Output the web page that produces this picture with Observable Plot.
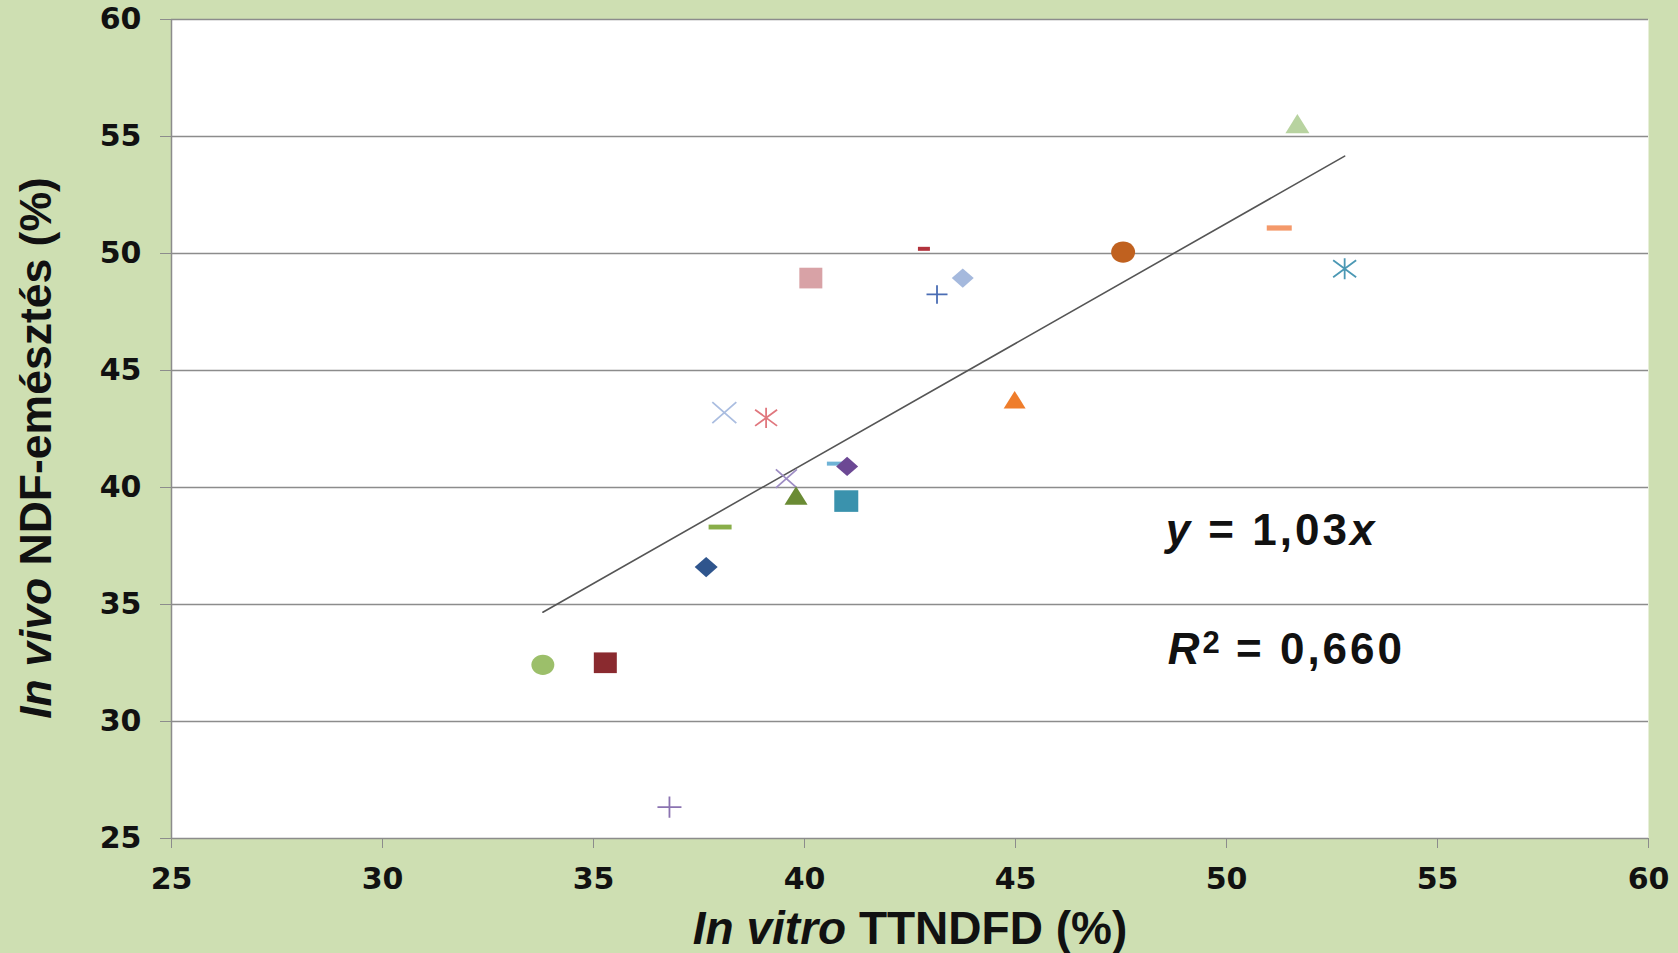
<!DOCTYPE html>
<html>
<head>
<meta charset="utf-8">
<script src="https://cdn.jsdelivr.net/npm/d3@7"></script>
<script src="https://cdn.jsdelivr.net/npm/@observablehq/plot@0.6"></script>
<style>
  html, body { margin: 0; padding: 0; background: #cedfb2; }
  #chart svg { display: block; }
  #chart svg [aria-label$="tick label"] text { font-weight: bold; }
</style>
</head>
<body>
<div id="chart"></div>
<script>
// ---- data ----
const pointIds = [1, 2, 3, 4, 5, 6, 7, 8, 9, 10, 11, 12, 13, 14, 15, 16, 17, 18, 19, 20, 21];
const inVitro = [51.68, 47.55, 51.25, 52.80, 42.83, 43.75, 43.14, 40.15, 44.98, 38.10, 39.09, 39.57, 41.01, 40.72, 39.80, 40.99, 38.00, 37.67, 33.80, 35.28, 36.80];
const inVivo  = [55.55, 50.06, 51.09, 49.35, 50.20, 48.95, 48.25, 48.95, 43.75, 43.20, 42.98, 40.38, 40.90, 41.02, 39.66, 39.42, 38.31, 36.60, 32.42, 32.51, 26.34];
const xTicks = [25, 30, 35, 40, 45, 50, 55, 60];
const yTicks = [25, 30, 35, 40, 45, 50, 55, 60];
const trendX = [33.80, 52.80];
const trendY = [34.67, 54.16];
const xTitleItalic = "In vitro", xTitleRest = " TTNDFD (%)";
const yTitleItalic = "In vivo", yTitleRest = " NDF-emésztés (%)";
const eqLabel = {x: 48.57, y: 37.52};
const r2Label = {x: 48.62, y: 32.45};

// ---- marker styles (one per point, same order) ----
const markerStyle = [
  {shape: "triangle", color: "#b8d3a0", r: 12},
  {shape: "ellipse",  color: "#c0611f", r: 12},
  {shape: "dash",     color: "#f4996a", r: 12.5},
  {shape: "asterisk", color: "#4b98b4", r: 11.5},
  {shape: "dash",     color: "#b2323c", r: 6},
  {shape: "diamond",  color: "#a5b9dd", r: 11},
  {shape: "plus",     color: "#4a6db4", r: 10.5},
  {shape: "square",   color: "#d8a2a6", r: 11.5},
  {shape: "triangle", color: "#ef7d2b", r: 11},
  {shape: "times",    color: "#aabde0", r: 12},
  {shape: "asterisk", color: "#e0777e", r: 11},
  {shape: "times",    color: "#9e8dc4", r: 10.5},
  {shape: "diamond",  color: "#6c4894", r: 11},
  {shape: "dash",     color: "#6fb3d6", r: 8},
  {shape: "triangle", color: "#6a8b34", r: 11.5},
  {shape: "square",   color: "#3a92ad", r: 12},
  {shape: "dash",     color: "#89ae49", r: 11.5},
  {shape: "diamond",  color: "#2f558d", r: 11.5},
  {shape: "ellipse",  color: "#9cbf6a", r: 11.5},
  {shape: "square",   color: "#8a2a2f", r: 11.5},
  {shape: "plus",     color: "#8b73b1", r: 12}
];

const half = (s) => Math.sqrt(s / Math.PI);
const K = 0.5523;
const symbols = {
  triangle: {draw(c, s) { const r = half(s), h = r * 0.8; c.moveTo(0, -h); c.lineTo(r, h); c.lineTo(-r, h); c.closePath(); }},
  ellipse: {draw(c, s) { const rx = half(s), ry = rx * 0.88;
    c.moveTo(rx, 0);
    c.bezierCurveTo(rx, ry * K, rx * K, ry, 0, ry);
    c.bezierCurveTo(-rx * K, ry, -rx, ry * K, -rx, 0);
    c.bezierCurveTo(-rx, -ry * K, -rx * K, -ry, 0, -ry);
    c.bezierCurveTo(rx * K, -ry, rx, -ry * K, rx, 0);
    c.closePath(); }},
  dash: {draw(c, s) { const r = half(s), h = Math.max(2, r * 0.21); c.rect(-r, -h, 2 * r, 2 * h); }},
  square: {draw(c, s) { const r = half(s), h = r * 0.9; c.rect(-r, -h, 2 * r, 2 * h); }},
  diamond: {draw(c, s) { const r = half(s), h = r * 0.88; c.moveTo(0, -h); c.lineTo(r, 0); c.lineTo(0, h); c.lineTo(-r, 0); c.closePath(); }},
  times: {draw(c, s) { const r = half(s), h = r * 0.88; c.moveTo(-r, -h); c.lineTo(r, h); c.moveTo(-r, h); c.lineTo(r, -h); }},
  plus: {draw(c, s) { const r = half(s), h = r * 0.88; c.moveTo(-r, 0); c.lineTo(r, 0); c.moveTo(0, -h); c.lineTo(0, h); }},
  asterisk: {draw(c, s) { const r = half(s), h = r * 0.92; c.moveTo(-r, -h * 0.8); c.lineTo(r, h * 0.8); c.moveTo(-r, h * 0.8); c.lineTo(r, -h * 0.8); c.moveTo(0, -h); c.lineTo(0, h); }}
};
const stroked = new Set(["times", "plus", "asterisk"]);

const points = pointIds.map((id, i) => ({id, x: inVitro[i], y: inVivo[i], ...markerStyle[i]}));
const drawOrder = [...points].sort((a, b) => (a.shape === "dash" ? 0 : 1) - (b.shape === "dash" ? 0 : 1));
const trend = trendX.map((x, i) => ({x, y: trendY[i]}));

const grey = "#8c8c8c";
const dotMarks = drawOrder.map(p => stroked.has(p.shape)
  ? Plot.dot([p], {x: "x", y: "y", r: p.r, symbol: symbols[p.shape], stroke: p.color, fill: "none", strokeWidth: 1.8})
  : Plot.dot([p], {x: "x", y: "y", r: p.r, symbol: symbols[p.shape], fill: p.color, stroke: "none"}));

const chart = Plot.plot({
  width: 1678,
  height: 953,
  marginLeft: 171,
  marginRight: 30,
  marginTop: 19,
  marginBottom: 115,
  style: {background: "#cedfb2", fontFamily: "'DejaVu Sans', Verdana, sans-serif", color: "#111"},
  x: {domain: [25, 60], label: null},
  y: {domain: [25, 60], label: null},
  marks: [
    Plot.frame({fill: "white", stroke: "none"}),
    Plot.gridY(yTicks.filter(d => d > 25), {stroke: grey, strokeOpacity: 1, strokeWidth: 1.5}),
    Plot.ruleY([25], {stroke: grey, strokeWidth: 1.5}),
    Plot.ruleX([25], {stroke: grey, strokeWidth: 1.5}),
    Plot.axisY(yTicks, {tickSize: 11, tickPadding: 19, fontSize: 30, fontWeight: "bold", stroke: grey, fill: "#111", tickFormat: d => d, label: null}),
    Plot.axisX(xTicks, {tickSize: 10, tickPadding: 19, fontSize: 30, fontWeight: "bold", stroke: grey, fill: "#111", tickFormat: d => d, label: null}),
    Plot.line(trend, {x: "x", y: "y", stroke: "#555", strokeWidth: 1.6}),
    ...dotMarks
  ]
});

document.getElementById("chart").append(chart);

const svg = d3.select(chart);
const sx = chart.scale("x"), sy = chart.scale("y");
const titleFont = "'Liberation Sans', Arial, sans-serif";

// axis titles
const xt = svg.append("text")
  .attr("x", 910).attr("y", 944)
  .attr("text-anchor", "middle")
  .attr("font-family", titleFont).attr("font-weight", "bold").attr("font-size", 46).attr("fill", "#111");
xt.append("tspan").attr("font-style", "italic").text(xTitleItalic);
xt.append("tspan").text(xTitleRest);

const yt = svg.append("text")
  .attr("transform", "translate(51,448) rotate(-90)")
  .attr("text-anchor", "middle")
  .attr("font-family", titleFont).attr("font-weight", "bold").attr("font-size", 44.5).attr("fill", "#111");
yt.append("tspan").attr("font-style", "italic").text(yTitleItalic);
yt.append("tspan").text(yTitleRest);

// equation annotations
const eq = svg.append("text")
  .attr("x", sx.apply(eqLabel.x)).attr("y", sy.apply(eqLabel.y))
  .attr("text-anchor", "start")
  .attr("letter-spacing", 3)
  .attr("font-family", titleFont).attr("font-weight", "bold").attr("font-size", 44).attr("fill", "#111");
eq.append("tspan").attr("font-style", "italic").text("y");
eq.append("tspan").text(" = 1,03");
eq.append("tspan").attr("font-style", "italic").text("x");

const r2 = svg.append("text")
  .attr("x", sx.apply(r2Label.x)).attr("y", sy.apply(r2Label.y))
  .attr("text-anchor", "start")
  .attr("letter-spacing", 3)
  .attr("font-family", titleFont).attr("font-weight", "bold").attr("font-size", 44).attr("fill", "#111");
r2.append("tspan").attr("font-style", "italic").text("R");
r2.append("tspan").attr("font-size", 31).attr("dy", -11).attr("letter-spacing", 1).text("2");
r2.append("tspan").attr("dy", 11).text(" = 0,660");
</script>
</body>
</html>
